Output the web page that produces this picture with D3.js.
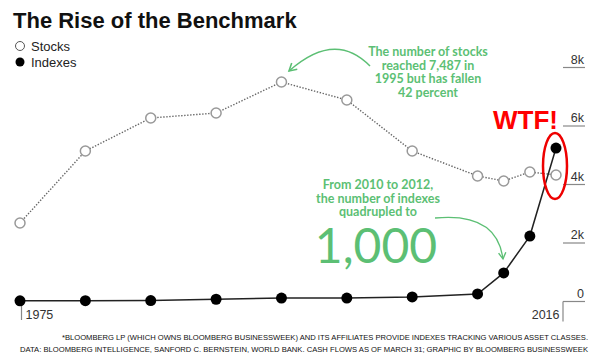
<!DOCTYPE html>
<html>
<head>
<meta charset="utf-8">
<script src="https://cdn.jsdelivr.net/npm/d3@7"></script>
<style>
  body { margin: 0; background: #fff; }
  svg { display: block; font-family: "Liberation Sans", Arial, sans-serif; }
  .note { font-family: Lato, "Open Sans", sans-serif; font-weight: 700; fill: #5cbf74; }
</style>
</head>
<body>
<div id="chart"></div>
<script>
// data
var years = [1975, 1980, 1985, 1990, 1995, 2000, 2005, 2010, 2012, 2014, 2016];
var stocks = [2667, 5128, 6256, 6427, 7487, 6872, 5128, 4274, 4103, 4410, 4308];
var indexes = [5, 10, 15, 60, 100, 100, 140, 240, 960, 2220, 5230];
var yTicks = [0, 2000, 4000, 6000, 8000];
var yTickLabels = ["0", "2k", "4k", "6k", "8k"];
var xTicks = [1975, 2016];

var width = 600,
    height = 363;

var svg = d3.select("#chart").append("svg")
    .attr("width", width)
    .attr("height", height);

var x = d3.scaleLinear().domain([1975, 2016]).range([20, 556]);
var y = d3.scaleLinear().domain([0, 8000]).range([301, 67]);

var green = "#5cbf74";

// title + legend
svg.append("text")
    .attr("x", 13).attr("y", 28)
    .style("font-size", "22px").style("font-weight", "bold").style("fill", "#111")
    .text("The Rise of the Benchmark");

svg.append("circle").attr("cx", 20).attr("cy", 46).attr("r", 4.5)
    .attr("fill", "#fff").attr("stroke", "#555").attr("stroke-width", 1);
svg.append("text").attr("x", 31).attr("y", 51)
    .style("font-size", "13px").style("fill", "#222").text("Stocks");
svg.append("circle").attr("cx", 20).attr("cy", 62).attr("r", 4.5).attr("fill", "#000");
svg.append("text").attr("x", 31).attr("y", 67)
    .style("font-size", "13px").style("fill", "#222").text("Indexes");

// y axis on the right
var yAxis = d3.axisRight(y)
    .tickValues(yTicks)
    .tickSize(22)
    .tickFormat(function(d, i) { return yTickLabels[i]; });

var gy = svg.append("g")
    .attr("transform", "translate(563,0)")
    .call(yAxis);
gy.select(".domain").remove();
gy.selectAll(".tick line").attr("stroke", "#888").attr("stroke-width", 1.2);
gy.selectAll(".tick text")
    .attr("x", 21).attr("dy", -4).attr("text-anchor", "end")
    .style("font-size", "12.5px").style("fill", "#333")
    .style("font-family", "'Liberation Sans', Arial, sans-serif");
gy.selectAll(".tick").filter(function(d) { return d === 0; })
    .append("line").attr("x1", 0).attr("x2", 0).attr("y1", 0).attr("y2", 20)
    .attr("stroke", "#888").attr("stroke-width", 1.2);

// x axis
var xAxis = d3.axisBottom(x).tickValues(xTicks).tickSize(18).tickFormat(d3.format("d"));
var gx = svg.append("g")
    .attr("transform", "translate(0,302)")
    .call(xAxis);
gx.select(".domain").remove();
gx.selectAll(".tick line").attr("stroke", "#888").attr("stroke-width", 1.2)
    .attr("x1", 1).attr("x2", 1);
gx.selectAll(".tick text")
    .style("font-size", "12.5px").style("fill", "#333")
    .style("font-family", "'Liberation Sans', Arial, sans-serif")
    .attr("y", 8).attr("dy", "0.71em")
    .attr("x", function(d) { return d === 1975 ? 5 : 3; })
    .attr("text-anchor", function(d) { return d === 1975 ? "start" : "end"; });
gx.selectAll(".tick").filter(function(d) { return d === 2016; }).select("line").remove();

// lines
var stockData = years.map(function(yr, i) { return {year: yr, value: stocks[i]}; });
var indexData = years.map(function(yr, i) { return {year: yr, value: indexes[i]}; });

var line = d3.line()
    .x(function(d) { return x(d.year); })
    .y(function(d) { return y(d.value); });

svg.append("path")
    .datum(stockData)
    .attr("d", line)
    .attr("fill", "none")
    .attr("stroke", "#666")
    .attr("stroke-width", 1.4)
    .attr("stroke-dasharray", "1.4,1.6");

svg.append("path")
    .datum(indexData)
    .attr("d", line)
    .attr("fill", "none")
    .attr("stroke", "#222")
    .attr("stroke-width", 1.5);

svg.selectAll(".stock-dot")
    .data(stockData)
    .enter().append("circle")
    .attr("class", "stock-dot")
    .attr("cx", function(d) { return x(d.year); })
    .attr("cy", function(d) { return y(d.value); })
    .attr("r", 5)
    .attr("fill", "#fff")
    .attr("stroke", "#999")
    .attr("stroke-width", 1.5);

svg.selectAll(".index-dot")
    .data(indexData)
    .enter().append("circle")
    .attr("class", "index-dot")
    .attr("cx", function(d) { return x(d.year); })
    .attr("cy", function(d) { return y(d.value); })
    .attr("r", 5.5)
    .attr("fill", "#000");

// arrow marker
svg.append("defs").append("marker")
    .attr("id", "arrow")
    .attr("viewBox", "0 0 10 10")
    .attr("refX", 8).attr("refY", 5)
    .attr("markerWidth", 7).attr("markerHeight", 7)
    .attr("orient", "auto")
    .append("path")
    .attr("d", "M1,1 L8,5 L1,9")
    .attr("fill", "none")
    .attr("stroke", green)
    .attr("stroke-width", 1.5);

// annotation 1
var note1 = ["The number of stocks", "reached 7,487 in", "1995 but has fallen", "42 percent"];
svg.append("g").selectAll("text")
    .data(note1)
    .enter().append("text")
    .attr("class", "note")
    .attr("x", 428)
    .attr("y", function(d, i) { return 56 + i * 13.5; })
    .attr("text-anchor", "middle")
    .style("font-size", "12.5px")
    .text(function(d) { return d; });

svg.append("path")
    .attr("d", "M370,66 Q335,30 289,71")
    .attr("fill", "none").attr("stroke", green).attr("stroke-width", 1.5)
    .attr("marker-end", "url(#arrow)");

// annotation 2
var note2 = ["From 2010 to 2012,", "the number of indexes", "quadrupled to"];
svg.append("g").selectAll("text")
    .data(note2)
    .enter().append("text")
    .attr("class", "note")
    .attr("x", 378)
    .attr("y", function(d, i) { return 189 + i * 13.5; })
    .attr("text-anchor", "middle")
    .style("font-size", "12.5px")
    .text(function(d) { return d; });

svg.append("text")
    .attr("x", 376).attr("y", 263)
    .attr("text-anchor", "middle")
    .style("font-family", "Lato, 'Open Sans', sans-serif")
    .style("font-weight", 400)
    .style("font-size", "48px")
    .style("fill", green)
    .text("1,000");

svg.append("path")
    .attr("d", "M435,218 Q497,212 503,259")
    .attr("fill", "none").attr("stroke", green).attr("stroke-width", 1.3)
    .attr("marker-end", "url(#arrow)");

// WTF
svg.append("text")
    .attr("x", 558).attr("y", 129)
    .attr("text-anchor", "end")
    .style("font-size", "26px").style("font-weight", "bold").style("fill", "#f00")
    .text("WTF!");

svg.append("ellipse")
    .attr("cx", x(2016) - 1).attr("cy", 166)
    .attr("rx", 12).attr("ry", 33)
    .attr("fill", "none").attr("stroke", "#e00").attr("stroke-width", 2.5);

// footnote
var foot = [
  "*BLOOMBERG LP (WHICH OWNS BLOOMBERG BUSINESSWEEK) AND ITS AFFILIATES PROVIDE INDEXES TRACKING VARIOUS ASSET CLASSES.",
  "DATA: BLOOMBERG INTELLIGENCE, SANFORD C. BERNSTEIN, WORLD BANK. CASH FLOWS AS OF MARCH 31; GRAPHIC BY BLOOMBERG BUSINESSWEEK"
];
var footWidths = [526, 568];
svg.append("g").selectAll("text")
    .data(foot)
    .enter().append("text")
    .attr("x", function(d, i) { return 588 - footWidths[i]; })
    .attr("y", function(d, i) { return 340 + i * 12; })
    .attr("textLength", function(d, i) { return footWidths[i]; })
    .attr("lengthAdjust", "spacingAndGlyphs")
    .style("font-size", "7.5px")
    .style("fill", "#111")
    .text(function(d) { return d; });
</script>
</body>
</html>
